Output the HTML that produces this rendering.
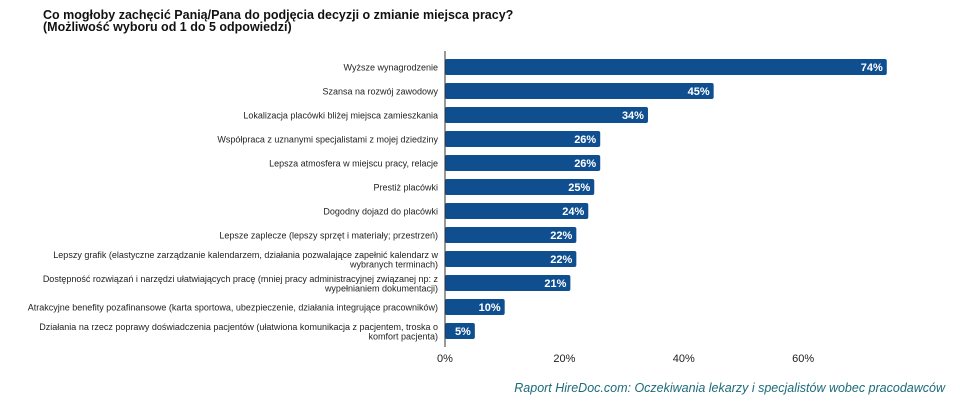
<!DOCTYPE html>
<html><head><meta charset="utf-8">
<style>
body{margin:0;width:960px;height:403px;background:#fff;overflow:hidden;font-family:"Liberation Sans",sans-serif}
#t{position:absolute;left:43px;top:9px;font-weight:bold;font-size:12.5px;line-height:12px;color:#111}
#f{position:absolute;right:15px;top:381px;font-style:italic;font-size:12.5px;color:#1c6b78}
svg{position:absolute;left:0;top:0}
</style></head><body>
<div id="t">Co mogłoby zachęcić Panią/Pana do podjęcia decyzji o zmianie miejsca pracy?<br>(Możliwość wyboru od 1 do 5 odpowiedzi)</div>
<svg id="c" width="960" height="403"></svg>
<div id="f">Raport HireDoc.com: Oczekiwania lekarzy i specjalistów wobec pracodawców</div>
<script>
const categories=[["Wyższe wynagrodzenie"],["Szansa na rozwój zawodowy"],["Lokalizacja placówki bliżej miejsca zamieszkania"],["Współpraca z uznanymi specjalistami z mojej dziedziny"],["Lepsza atmosfera w miejscu pracy, relacje"],["Prestiż placówki"],["Dogodny dojazd do placówki"],["Lepsze zaplecze (lepszy sprzęt i materiały; przestrzeń)"],["Lepszy grafik (elastyczne zarządzanie kalendarzem, działania pozwalające zapełnić kalendarz w","wybranych terminach)"],["Dostępność rozwiązań i narzędzi ułatwiających pracę (mniej pracy administracyjnej związanej np: z","wypełnianiem dokumentacji)"],["Atrakcyjne benefity pozafinansowe (karta sportowa, ubezpieczenie, działania integrujące pracowników)"],["Działania na rzecz poprawy doświadczenia pacjentów (ułatwiona komunikacja z pacjentem, troska o","komfort pacjenta)"]];
const values=[74,45,34,26,26,25,24,22,22,21,10,5];
const ticks=[0,20,40,60];
const NS="http://www.w3.org/2000/svg";
const svg=document.getElementById('c');
const x=v=>445+v*5.97;
const y=i=>67+i*24;
function mk(tag,a,txt){const e=document.createElementNS(NS,tag);for(const k in a)e.setAttribute(k,a[k]);if(txt!=null)e.textContent=txt;svg.appendChild(e);return e;}
values.forEach((v,i)=>{
  const r=mk('rect',{x:x(0),y:y(i)-8,width:x(v)-x(0),height:16,rx:2,fill:'#0f4f90'});
  
  
  const t=mk('text',{x:x(v)-4,y:y(i)+4,'text-anchor':'end','font-size':11,'font-weight':'bold',fill:'#fff'},v+'%');
  
  
  const lines=categories[i];
  lines.forEach((s,j)=>{
    const l=mk('text',{x:438,y:y(i)+3.5+(lines.length>1?(j-0.5)*9.5:0),'text-anchor':'end','font-size':9,fill:'#222'},s);
    
    
  });
});
const ax=mk('line',{x1:445,x2:445,y1:51,y2:347,stroke:'#333','stroke-width':1});


ticks.forEach(tk=>{
  const t=mk('text',{x:x(tk),y:362,'text-anchor':'middle','font-size':11,fill:'#222'},tk+'%');
  
  
});
</script>
</body></html>
